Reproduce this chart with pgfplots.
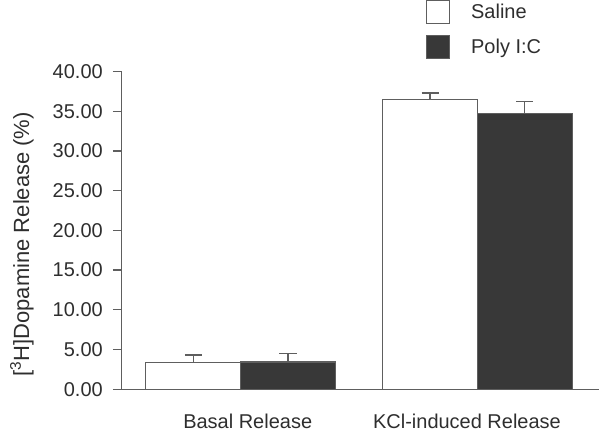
\documentclass[border=0pt]{standalone}
\usepackage{pgfplots}
\pgfplotsset{compat=1.18}
\usepackage{fontspec}
\setmainfont{Liberation Sans}

\definecolor{axisgray}{HTML}{5E5E5E}
\definecolor{txtgray}{HTML}{2E2E2E}
\definecolor{polyfill}{HTML}{383838}

\begin{document}
\begin{tikzpicture}
\begin{axis}[
  scale only axis,
  width=358.5pt, height=238.5pt,
  xmin=0.498, xmax=2.515,
  ymin=0, ymax=40,
  axis x line=bottom, axis y line=left,
  axis line style={draw=axisgray, line width=1pt, -},
  xtick={1.03,1.956},
  xticklabels={Basal Release, KCl-induced Release},
  x tick style={draw=none},
  ytick={0,5,...,40},
  y tick style={draw=axisgray, line width=1pt},
  tick align=outside,
  major tick length=6.75pt,
  font=\fontsize{15}{18}\selectfont,
  every tick label/.append style={text=txtgray},
  /pgf/number format/assume math mode=true,
  yticklabel={\pgfmathprintnumber[fixed, fixed zerofill, precision=2]{\tick}},
  yticklabel style={xshift=-4pt},
  xticklabel style={anchor=base, yshift=-22.5pt},
  ylabel={[\textsuperscript{3}H]Dopamine Release (\%)},
  ylabel style={at={(axis description cs:-0.209,0.456)}, anchor=center, inner sep=0pt,
    text=txtgray, font=\fontsize{16.5}{19}\selectfont},
  ybar, bar width=0.4, bar shift=0pt,
  legend style={draw=none, fill=none, at={(axis description cs:0.636,1.226)},
    anchor=north west, inner sep=0pt, row sep=8.5pt, column sep=14pt,
    font=\fontsize{15}{18}\selectfont, text=txtgray},
  legend cell align=left,
  legend image code/.code={\draw[#1, draw=axisgray, line width=0.8pt] (0pt,-8.6pt) rectangle (17.25pt,8.6pt);},
  error bars/error mark=-,
  error bars/error bar style={draw=axisgray, line width=1pt},
  error bars/error mark options={rotate=90, draw=axisgray, line width=1pt, mark size=6.4pt},
]
\addplot[fill=white, draw=axisgray, line width=0.8pt,
  error bars/.cd, y dir=plus, y explicit]
  coordinates {(0.8,3.36) +- (0,0.97) (1.8,36.48) +- (0,0.80)};
\addplot[fill=polyfill, draw=axisgray, line width=0.8pt,
  error bars/.cd, y dir=plus, y explicit]
  coordinates {(1.2,3.43) +- (0,1.07) (2.2,34.76) +- (0,1.45)};
\legend{Saline, Poly I:C}
\coordinate (leftedge) at (axis description cs:-0.255,0.5);
\end{axis}
\path (leftedge);
\end{tikzpicture}
\end{document}
